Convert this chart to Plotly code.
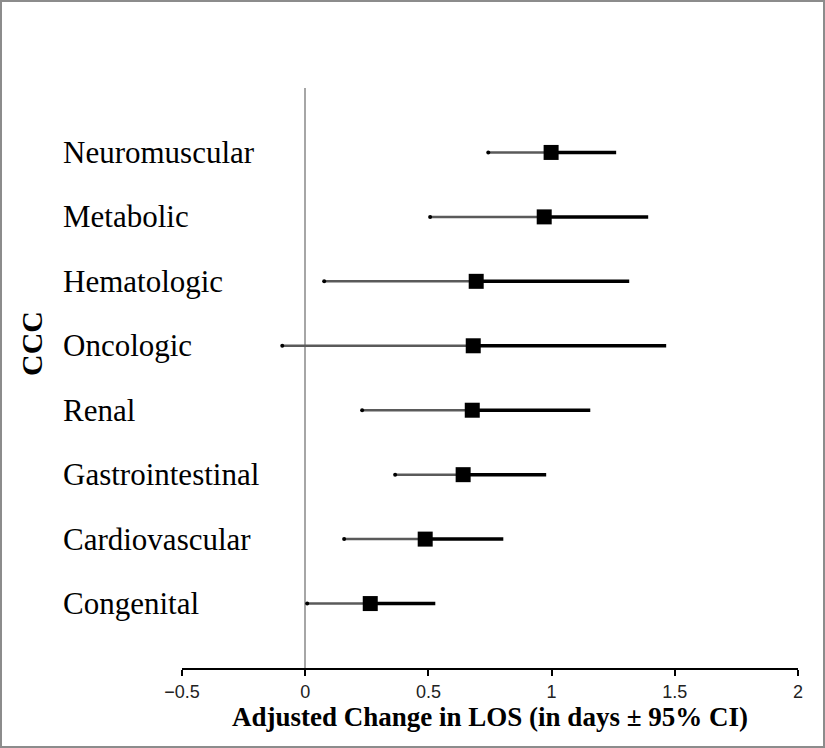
import plotly.graph_objects as go

# rows from bottom to top
categories = ["Congenital", "Cardiovascular", "Gastrointestinal", "Renal",
              "Oncologic", "Hematologic", "Metabolic", "Neuromuscular"]
estimate = [0.264, 0.487, 0.641, 0.678, 0.682, 0.694, 0.970, 0.998]
ci_low = [0.008, 0.158, 0.365, 0.231, -0.093, 0.077, 0.507, 0.743]
ci_high = [0.528, 0.804, 0.978, 1.157, 1.465, 1.315, 1.392, 1.262]
x_ticks = [-0.5, 0, 0.5, 1, 1.5, 2]

rows = list(range(1, len(categories) + 1))

W, H = 825, 748
L, R, T, B = 182, 27, 88, 80
pw, ph = W - L - R, H - T - B

def px_x(p):
    return (p - L) / pw

def px_y(p):
    return (H - B - p) / ph

# lower part of CI (lo -> estimate) and upper part (estimate -> hi)
lx, ly, ux, uy = [], [], [], []
for r, lo, est, hi in zip(rows, ci_low, estimate, ci_high):
    lx += [lo, est, None]
    ly += [r, r, None]
    ux += [est, hi, None]
    uy += [r, r, None]

fig = go.Figure()
fig.add_trace(go.Scatter(x=lx, y=ly, mode="lines",
                         line=dict(color="#5a5a5a", width=2.5),
                         hoverinfo="skip", showlegend=False))
fig.add_trace(go.Scatter(x=ux, y=uy, mode="lines",
                         line=dict(color="black", width=3.5),
                         hoverinfo="skip", showlegend=False))
fig.add_trace(go.Scatter(x=ci_low, y=rows, mode="markers",
                         marker=dict(color="black", size=4),
                         hoverinfo="skip", showlegend=False))
fig.add_trace(go.Scatter(x=estimate, y=rows, mode="markers",
                         marker=dict(symbol="square", color="black", size=15),
                         customdata=list(zip(ci_low, ci_high)),
                         text=categories,
                         hovertemplate="%{text}: %{x:.2f} (%{customdata[0]:.2f} to %{customdata[1]:.2f})<extra></extra>",
                         showlegend=False))

serif = "Liberation Serif, Times New Roman, serif"

# category labels, left aligned like the original
for r, name in zip(rows, categories):
    fig.add_annotation(text=name, xref="paper", yref="y", x=px_x(61), y=r,
                       xanchor="left", yanchor="middle", showarrow=False,
                       font=dict(family=serif, size=31, color="black"))

fig.add_annotation(text="<b>CCC</b>", xref="paper", yref="paper",
                   x=px_x(31), y=px_y(344), textangle=-90,
                   xanchor="center", yanchor="middle", showarrow=False,
                   font=dict(family=serif, size=30, color="black"))

# outer frame
fig.add_shape(type="rect", xref="paper", yref="paper",
              x0=px_x(1), x1=px_x(824), y0=px_y(747), y1=px_y(1),
              line=dict(color="#8c8c8c", width=2), layer="above")

fig.update_layout(
    width=W, height=H,
    margin=dict(l=L, r=R, t=T, b=B),
    plot_bgcolor="white", paper_bgcolor="white",
    xaxis=dict(range=[-0.5, 2], tickvals=x_ticks,
               ticktext=["\u22120.5", "0", "0.5", "1", "1.5", "2"],
               showgrid=False, showline=True, linecolor="black", linewidth=2,
               ticks="outside", ticklen=6, tickwidth=2, tickcolor="black",
               zeroline=True, zerolinecolor="#a6a6a6", zerolinewidth=2,
               tickfont=dict(family="Liberation Sans Narrow, Arial Narrow, Liberation Sans, sans-serif",
                             size=18, color="#222222"),
               title=dict(text="<b>Adjusted Change in LOS (in days \u00b1 95% CI)</b>",
                          standoff=6,
                          font=dict(family=serif, size=27, color="black"))),
    yaxis=dict(range=[0, 9], showticklabels=False, showgrid=False,
               zeroline=False, showline=False, ticks=""),
)

fig.write_html("out.html", config={"displayModeBar": False},
               post_script="document.body.style.margin='0';")
